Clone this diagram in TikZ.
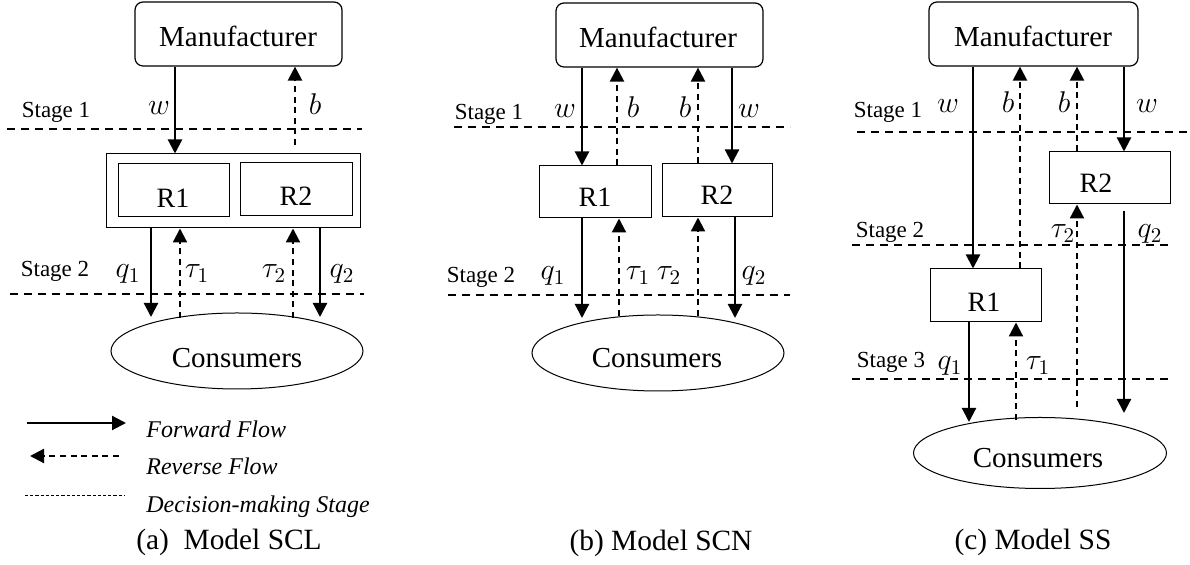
\documentclass[tikz,border=0pt]{standalone}
\usepackage{fix-cm}
\usepackage{fontspec}
\setmainfont{Liberation Serif}
\newfontfamily\tnr{Liberation Serif}
\usetikzlibrary{arrows.meta,shapes.geometric}
\begin{document}
\begin{tikzpicture}[x=0.5pt,y=-0.5pt,
 mbox/.style={draw,rounded corners=4pt,line width=0.6pt,minimum height=32pt,inner sep=0pt},
 rbox/.style={draw,line width=0.5pt,inner sep=0pt},
 cons/.style={draw,ellipse,line width=0.5pt,inner sep=0pt},
 fwd/.style={line width=1.1pt,-{Triangle[length=7pt,width=7pt]}},
 rev/.style={line width=1.1pt,dash pattern=on 3pt off 2.3pt,-{Triangle[length=7pt,width=7pt]}},
 stage/.style={line width=0.75pt,dash pattern=on 4pt off 3pt},
 big/.style={font=\tnr\fontsize{14.5}{17}\selectfont,inner sep=0pt,anchor=base},
 rtxt/.style={font=\tnr\fontsize{14}{17}\selectfont,inner sep=0pt,anchor=base},
 stg/.style={font=\tnr\fontsize{11.5}{14}\selectfont,inner sep=0pt,anchor=base},
 lab/.style={font=\fontsize{15}{18}\selectfont,inner sep=0pt,anchor=base},
 leg/.style={font=\tnr\fontsize{12}{14}\selectfont\itshape,inner sep=0pt,anchor=base west},
 captxt/.style={font=\tnr\fontsize{14.7}{17}\selectfont,inner sep=0pt,anchor=base},
]
\useasboundingbox (0,0) rectangle (1190,565);

% ---------------- (a) Model SCL ----------------
\node[mbox,minimum width=103.5pt] (Ma) at (238.5,34) {};
\node[big] (Mat) at (238,47) {Manufacturer};
\node[rbox,minimum width=127pt,minimum height=37pt] (Oa) at (233,191) {};
\node[rbox,minimum width=55.5pt,minimum height=26.5pt] (R1a) at (173.5,190.5) {};
\node[rtxt] (R1at) at (173,208) {R1};
\node[rbox,minimum width=56pt,minimum height=26.5pt] (R2a) at (296,189.5) {};
\node[rtxt] (R2at) at (296,206) {R2};
\node[cons,minimum width=126pt,minimum height=38pt] (Ca) at (237,351) {};
\node[big] (Cat) at (237,368) {Consumers};

\coordinate (ba0) at (295,145);
\coordinate (qa1) at (151,317);
\coordinate (ta1) at (180,318);
\coordinate (ta2) at (293,318);
\coordinate (qa2) at (320,317);
\draw[fwd] (Ma.south -| 175,0) -- (Oa.north -| 175,0);
\draw[rev] (ba0) -- (Ma.south -| ba0);
\draw[fwd] (Oa.south -| qa1) -- (qa1);
\draw[rev] (ta1) -- (Oa.south -| ta1);
\draw[rev] (ta2) -- (Oa.south -| ta2);
\draw[fwd] (Oa.south -| qa2) -- (qa2);

\draw[stage] (7,129) -- (362,129);
\draw[stage] (10,294) -- (364,294);
\node[stg] (sa1) at (56,118) {Stage 1};
\node[lab] (wa) at (159,115) {$w$};
\node[lab] (bba) at (315,115) {$b$};
\node[stg] (sa2) at (55,277) {Stage 2};
\node[lab] (lqa1) at (128,278) {$q_1$};
\node[lab] (lta1) at (197,278) {$\tau_1$};
\node[lab] (lta2) at (274,278) {$\tau_2$};
\node[lab] (lqa2) at (342,278) {$q_2$};

% legend
\draw[fwd] (27,423) -- (126,423);
\draw[rev] (119,456) -- (30,456);
\draw[line width=0.45pt,dash pattern=on 1.6pt off 1pt] (25,495) -- (125,495);
\node[leg] (lg1) at (146,438) {Forward Flow};
\node[leg] (lg2) at (146,475) {Reverse Flow};
\node[leg] (lg3) at (146,513) {Decision-making Stage};
\node[captxt] (capa) at (229,550) {(a)\ \ Model SCL};

% ---------------- (b) Model SCN ----------------
\node[mbox,minimum width=103.5pt] (Mb) at (659.5,35) {};
\node[big] (Mbt) at (658,48) {Manufacturer};
\node[rbox,minimum width=56pt,minimum height=26pt] (R1b) at (595,192) {};
\node[rtxt] (R1bt) at (595,207) {R1};
\node[rbox,minimum width=55pt,minimum height=26.5pt] (R2b) at (717,190.5) {};
\node[rtxt] (R2bt) at (717,205) {R2};
\node[cons,minimum width=126pt,minimum height=38pt] (Cb) at (658,353) {};
\node[big] (Cbt) at (657,368) {Consumers};

\coordinate (qb1) at (582,318);
\coordinate (tb1) at (619,316);
\coordinate (tb2) at (698,316);
\coordinate (qb2) at (735,318);
\draw[fwd] (Mb.south -| 582,0) -- (R1b.north -| 582,0);
\draw[rev] (R1b.north -| 617,0) -- (Mb.south -| 617,0);
\draw[rev] (R2b.north -| 698,0) -- (Mb.south -| 698,0);
\draw[fwd] (Mb.south -| 732,0) -- (R2b.north -| 732,0);
\draw[fwd] (R1b.south -| qb1) -- (qb1);
\draw[rev] (tb1) -- (R1b.south -| tb1);
\draw[rev] (tb2) -- (R2b.south -| tb2);
\draw[fwd] (R2b.south -| qb2) -- (qb2);

\draw[stage] (454,127) -- (790,127);
\draw[stage] (448,295) -- (790,295);
\node[stg] (sb1) at (489,120) {Stage 1};
\node[lab] (wb1) at (565,118) {$w$};
\node[lab] (bb1) at (633,118) {$b$};
\node[lab] (bb2) at (685,118) {$b$};
\node[lab] (wb2) at (749,118) {$w$};
\node[stg] (sb2) at (481,283) {Stage 2};
\node[lab] (lqb1) at (553,280) {$q_1$};
\node[lab] (ltb1) at (638,280) {$\tau_1$};
\node[lab] (ltb2) at (669,280) {$\tau_2$};
\node[lab] (lqb2) at (754,280) {$q_2$};
\node[captxt] (capb) at (661,551) {(b) Model SCN};

% ---------------- (c) Model SS ----------------
\node[mbox,minimum width=104.5pt] (Mc) at (1033.5,34) {};
\node[big] (Mct) at (1033,47) {Manufacturer};
\node[rbox,minimum width=60.5pt,minimum height=26pt] (R2c) at (1109.5,178) {};
\node[rtxt] (R2ct) at (1096,193) {R2};
\node[rbox,minimum width=55.5pt,minimum height=26.5pt] (R1c) at (985.5,295.5) {};
\node[rtxt] (R1ct) at (984,312) {R1};
\node[cons,minimum width=126.5pt,minimum height=35.5pt] (Cc) at (1040,453) {};
\node[big] (Cct) at (1038,468) {Consumers};

\coordinate (tc2) at (1077,407);
\coordinate (qc2s) at (1124,211);
\coordinate (qc2) at (1124,413);
\coordinate (qc1) at (969,422);
\coordinate (tc1) at (1016,420);
\draw[fwd] (Mc.south -| 973,0) -- (R1c.north -| 973,0);
\draw[rev] (R1c.north -| 1020,0) -- (Mc.south -| 1020,0);
\draw[rev] (R2c.north -| 1077,0) -- (Mc.south -| 1077,0);
\draw[fwd] (Mc.south -| 1124,0) -- (R2c.north -| 1124,0);
\draw[rev] (tc2) -- (R2c.south -| tc2);
\draw[fwd] (qc2s) -- (qc2);
\draw[fwd] (R1c.south -| qc1) -- (qc1);
\draw[rev] (tc1) -- (R1c.south -| tc1);

\draw[stage] (857,132) -- (1190,132);
\draw[stage] (852,245) -- (1168,245);
\draw[stage] (852,379) -- (1168,379);
\node[stg] (sc1) at (888,118) {Stage 1};
\node[lab] (wc1) at (948,113) {$w$};
\node[lab] (bc1) at (1008,113) {$b$};
\node[lab] (bc2) at (1064,113) {$b$};
\node[lab] (wc2) at (1147,113) {$w$};
\node[stg] (sc2) at (890,238) {Stage 2};
\node[lab] (ltc2) at (1063,238) {$\tau_2$};
\node[lab] (lqc2) at (1150,238) {$q_2$};
\node[stg] (sc3) at (891,368) {Stage 3};
\node[lab] (lqc1) at (950,370) {$q_1$};
\node[lab] (ltc1) at (1038,370) {$\tau_1$};
\node[captxt] (capc) at (1033,550) {(c) Model SS};
\end{tikzpicture}
\end{document}
